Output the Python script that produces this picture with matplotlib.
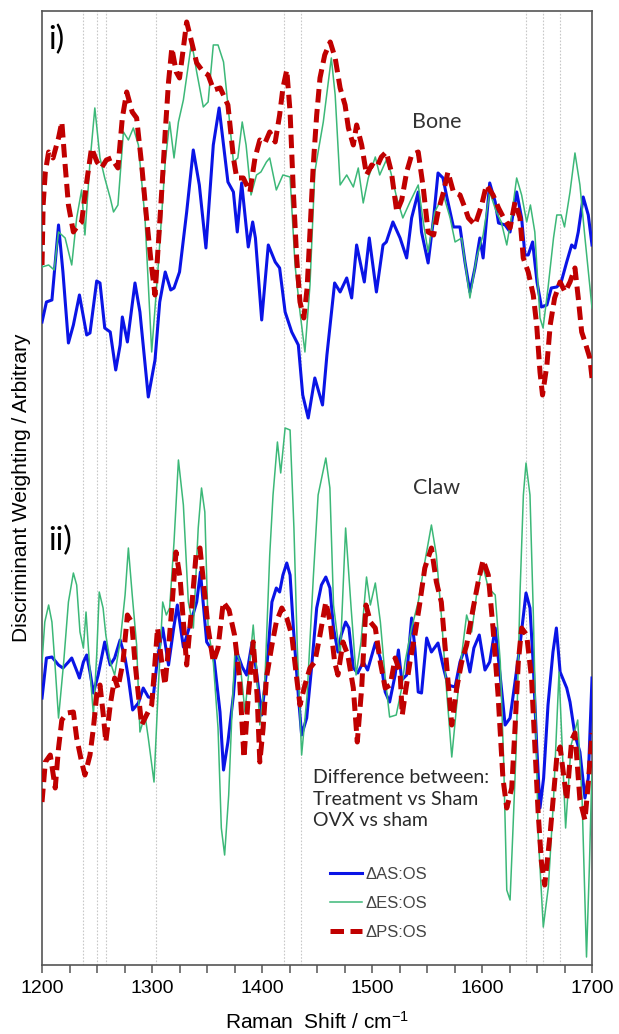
import numpy as np
import matplotlib.pyplot as plt
from matplotlib.lines import Line2D

plt.rcParams['font.family'] = ['Liberation Sans', 'DejaVu Sans']
plt.rcParams['mathtext.fontset'] = 'custom'
plt.rcParams['mathtext.rm'] = 'Liberation Sans'
plt.rcParams['mathtext.it'] = 'Liberation Sans:italic'
plt.rcParams['lines.solid_joinstyle'] = 'round'

# Bone discriminant weightings (arbitrary units, panel i)
bone_as_x = [1200, 1204, 1209, 1215, 1219, 1224, 1228.5, 1234, 1240.6, 1243.6, 1249.7, 1252.7, 1257, 1262,
             1267, 1271, 1273, 1277.6, 1284.5, 1289, 1296.6, 1302.7, 1307, 1312, 1317, 1320, 1325, 1331.5,
             1337.5, 1343, 1349, 1355.7, 1361, 1365, 1369, 1374, 1377.5, 1381.5, 1387.5, 1391.5, 1394,
             1399.7, 1405.7, 1412, 1416, 1421, 1427, 1433, 1437, 1442, 1448, 1455, 1459, 1466, 1471, 1477,
             1481.5, 1486, 1493, 1497.5, 1504, 1510, 1513, 1519, 1525.5, 1531.5, 1536, 1542, 1545, 1551,
             1556, 1560, 1564.5, 1568, 1574, 1580, 1584.5, 1589, 1593.6, 1598, 1601, 1607, 1612, 1615,
             1621, 1625.5, 1631.5, 1636, 1639, 1642, 1646, 1650, 1654, 1659, 1663, 1668, 1672, 1677,
             1681.5, 1684.5, 1687.5, 1692, 1696.6, 1700]
bone_as_y = [64.3, 66.3, 66.5, 74.0, 69.3, 62.2, 64.0, 67.0, 63.0, 63.2, 68.4, 68.2, 63.7, 63.3,
             59.5, 62.0, 64.8, 62.3, 68.2, 65.3, 56.8, 60.5, 66.3, 69.3, 67.5, 67.7, 69.3, 75.3,
             81.5, 78.0, 71.7, 82.0, 85.7, 82.0, 78.3, 77.3, 73.3, 78.2, 71.8, 74.3, 72.7,
             64.5, 72.0, 70.3, 69.7, 65.3, 63.3, 62.0, 57.0, 54.7, 58.7, 56.0, 61.0, 68.2, 67.3, 68.7,
             66.7, 72.0, 68.3, 72.7, 67.3, 72.0, 72.3, 74.3, 72.7, 70.7, 74.7, 77.3, 73.3, 70.2,
             74.7, 79.2, 78.7, 76.8, 73.8, 73.8, 70.3, 67.3, 69.7, 72.7, 70.7, 78.2, 76.3, 74.2,
             74.0, 73.3, 77.3, 74.7, 71.0, 71.0, 72.3, 68.3, 65.8, 66.0, 67.7, 67.8, 68.3, 70.3,
             72.0, 71.7, 73.3, 76.8, 75.0, 72.0]

bone_es_x = [1200, 1206, 1211, 1215, 1221, 1227, 1231.5, 1236, 1239, 1243.6, 1248, 1252.7, 1257, 1262,
             1265, 1269, 1274, 1278.5, 1283, 1287.6, 1293.6, 1299.7, 1305.7, 1312, 1316, 1320, 1324,
             1328.5, 1336, 1340.6, 1346.6, 1351, 1355.7, 1360, 1365, 1369, 1374, 1378, 1382, 1385.5,
             1390, 1395, 1399, 1404, 1407, 1413, 1419, 1425.5, 1430, 1434.5, 1439, 1443.6, 1448, 1451,
             1455.7, 1463, 1466.5, 1471, 1477, 1483, 1487.5, 1492, 1496.6, 1503, 1507, 1513, 1517,
             1522.5, 1528, 1534.5, 1542, 1546.6, 1551, 1557, 1565, 1571, 1575.5, 1581.5, 1589, 1595,
             1601, 1607, 1613, 1617.5, 1622.5, 1627, 1631.5, 1636, 1640.6, 1644, 1648, 1652.7, 1655.5,
             1660, 1665, 1668, 1672, 1675, 1680, 1684.5, 1689, 1693.6, 1700]
bone_es_y = [69.8, 70.0, 69.5, 73.3, 72.7, 70.0, 74.7, 77.5, 73.0, 80.3, 85.7, 80.7, 78.7, 76.7,
             75.3, 76.0, 83.3, 82.5, 83.7, 82.0, 74.7, 61.3, 70.0, 80.3, 84.3, 80.7, 84.3,
             86.5, 92.3, 89.3, 85.8, 86.3, 92.0, 92.0, 90.3, 86.0, 80.3, 80.7, 84.3, 82.0,
             77.0, 79.0, 79.3, 80.3, 80.7, 77.5, 79.0, 78.8, 70.0, 65.3, 61.3, 68.0, 79.3, 81.3,
             84.3, 90.7, 87.0, 78.0, 79.0, 77.8, 79.7, 76.2, 78.7, 80.8, 79.0, 80.5, 79.3,
             76.7, 74.7, 76.3, 78.0, 74.3, 71.3, 75.3, 77.0, 74.7, 72.3, 72.7, 66.7, 70.7,
             73.0, 77.3, 75.3, 74.3, 72.0, 75.0, 78.7, 77.0, 74.3, 76.0, 73.3, 64.7, 63.7,
             67.7, 72.7, 75.0, 75.0, 73.8, 77.3, 81.2, 78.0, 72.7, 65.7]

bone_ps_x = [1200, 1201, 1203, 1206, 1210, 1215, 1218, 1221, 1224, 1228.5, 1233, 1236, 1240.6, 1245,
             1250, 1254, 1258.5, 1263, 1269, 1273, 1277, 1282, 1286, 1290.6, 1295, 1299.7, 1302.7,
             1305.7, 1309, 1312, 1315, 1318, 1322, 1325, 1328.5, 1331.5, 1336, 1340.6, 1346.6, 1351,
             1356, 1362, 1369, 1374, 1377, 1383, 1389, 1393.6, 1398, 1402.7, 1407, 1412, 1416, 1419,
             1422.5, 1425.5, 1428.5, 1431.5, 1434.5, 1438, 1441, 1443.6, 1446.6, 1449.7, 1452.7, 1457,
             1462, 1466.5, 1471, 1475.5, 1478.5, 1483, 1486, 1490.6, 1495, 1499.7, 1504, 1508.5, 1513,
             1517.6, 1522.5, 1527, 1531.5, 1536, 1542, 1546.6, 1551, 1556, 1560, 1565, 1569, 1574,
             1580, 1584.5, 1587.6, 1593.6, 1599.7, 1604, 1610, 1615, 1619.7, 1625.5, 1630, 1634.5,
             1637.5, 1642, 1646.6, 1649.7, 1652.7, 1655, 1659, 1662, 1666, 1671, 1675.5, 1680, 1684.5,
             1687.5, 1690.6, 1693.6, 1698, 1700]
bone_ps_y = [70.0, 76.0, 79.3, 81.3, 80.7, 82.7, 84.3, 80.0, 76.0, 73.3, 74.0, 74.3, 78.3, 81.7,
             80.3, 79.7, 80.5, 80.7, 79.7, 84.7, 87.3, 85.3, 84.7, 80.0, 74.7, 69.7, 67.0,
             72.0, 77.7, 83.3, 88.3, 91.7, 89.3, 88.7, 91.7, 94.3, 92.3, 90.2, 89.3, 89.0,
             87.5, 87.7, 86.0, 80.7, 78.7, 78.7, 77.3, 80.7, 82.5, 82.2, 83.3, 82.3, 85.0, 87.7,
             89.5, 85.3, 77.3, 70.7, 66.3, 64.7, 67.7, 73.3, 80.0, 85.0, 88.7, 91.0,
             92.3, 90.7, 87.7, 86.0, 83.7, 82.0, 84.0, 82.0, 79.0, 80.0, 79.7, 80.8, 81.3,
             79.3, 75.3, 76.5, 79.3, 81.0, 81.3, 77.7, 73.3, 73.0, 75.3, 77.3, 79.3, 77.3,
             77.0, 75.7, 74.7, 74.0, 76.0, 78.0, 77.0, 75.7, 74.7, 73.7, 76.3, 74.7,
             70.7, 69.3, 67.0, 64.0, 59.3, 57.0, 60.0, 64.0, 66.7, 68.3, 67.3, 68.3, 69.7,
             66.7, 63.3, 62.3, 60.7, 58.7]

# Claw discriminant weightings (arbitrary units, panel ii)
claw_as_x = [1200, 1204, 1209, 1215, 1219, 1224, 1227, 1232, 1234, 1237.6, 1240.6, 1243.6, 1246.7, 1251,
             1257, 1262, 1266, 1271, 1275.5, 1278.5, 1282.4, 1287.6, 1292, 1296.6, 1301, 1305, 1309.7,
             1315, 1319.7, 1323, 1328.5, 1334.5, 1340.6, 1344, 1349.7, 1355.7, 1361.8, 1365, 1369, 1374,
             1377, 1382, 1386, 1391, 1395, 1399.7, 1404, 1409, 1413, 1416, 1419, 1422.5, 1425.5, 1428.5,
             1433, 1436, 1440.6, 1445, 1449.7, 1454, 1458, 1461.7, 1465, 1469, 1472, 1476, 1479, 1483,
             1487, 1492, 1496, 1503, 1507.5, 1512, 1516, 1521, 1524, 1527, 1531.5, 1536, 1539, 1542,
             1545, 1549.7, 1554, 1560, 1565, 1569, 1575.5, 1580, 1584.5, 1589, 1592.6, 1597.5, 1602.7,
             1607, 1612, 1616.7, 1621, 1625.5, 1630, 1634.5, 1640, 1643.6, 1646.6, 1649.7, 1652.7, 1656,
             1660, 1664.5, 1667.6, 1671, 1677, 1680, 1684.5, 1689, 1693.6, 1696.6, 1700]
claw_as_y = [26.7, 30.7, 30.8, 30.0, 29.7, 30.3, 30.7, 29.3, 28.7, 30.3, 31.0, 29.3, 27.2, 29.0,
             32.3, 30.0, 30.7, 32.5, 30.7, 28.7, 25.5, 26.2, 27.7, 26.8, 26.7, 30.7, 33.7,
             30.0, 33.7, 36.0, 31.8, 34.0, 36.3, 39.3, 32.3, 31.3, 25.3, 19.5, 22.3, 27.0,
             31.3, 29.8, 29.0, 32.3, 29.3, 25.0, 29.3, 36.3, 37.7, 37.3, 39.0, 40.2, 39.0, 33.7,
             27.0, 23.0, 24.7, 29.7, 35.7, 38.0, 38.8, 37.7, 33.7, 31.3, 33.0, 34.3, 33.7, 29.7,
             29.2, 30.3, 29.5, 32.2, 30.7, 27.3, 26.3, 29.0, 31.5, 28.5, 29.0, 34.7, 31.7, 27.3,
             27.2, 32.7, 31.3, 32.2, 29.7, 28.0, 27.8, 30.3, 31.7, 29.3, 31.7, 33.0, 29.5,
             30.3, 33.7, 28.7, 24.0, 24.7, 28.3, 32.0, 37.2, 35.7, 30.0, 22.0, 15.7, 18.7,
             26.0, 31.3, 33.7, 29.3, 27.7, 26.3, 23.0, 21.3, 16.7, 18.7, 28.7]

claw_es_x = [1200, 1202.5, 1206, 1209, 1212, 1215, 1219.7, 1224, 1228.5, 1231.5, 1234.5, 1237.6, 1240,
             1243, 1246.7, 1249.7, 1252, 1255.5, 1258, 1262, 1266, 1271, 1275.5, 1278.5, 1282, 1286,
             1289, 1293.6, 1296.6, 1301.8, 1305.7, 1309.7, 1313, 1316, 1320, 1324, 1328.5, 1333,
             1337.6, 1342, 1345, 1348, 1351, 1355.7, 1360, 1363, 1366, 1369.7, 1372.7, 1375.5, 1380,
             1384.5, 1388, 1392, 1395, 1398, 1402.7, 1407, 1410, 1414, 1417, 1421, 1425.5, 1429, 1432,
             1436, 1441, 1446.6, 1451, 1458, 1461.7, 1465, 1471, 1476, 1481, 1485.5, 1490, 1495,
             1498.5, 1503, 1507.6, 1512, 1516, 1522, 1527, 1530, 1536, 1542, 1548, 1554, 1558.5,
             1563, 1567.6, 1572.5, 1577, 1581.5, 1586, 1590.6, 1595, 1600.6, 1605.7, 1612, 1616.6,
             1619.7, 1622.5, 1625.5, 1628, 1631, 1634.5, 1637.6, 1640, 1643.6, 1646.6, 1649.7, 1651,
             1655.7, 1660.3, 1665, 1670, 1673, 1676, 1681, 1687, 1691, 1695, 1697.6, 1700]
claw_es_y = [30.3, 34.3, 36.0, 34.3, 29.7, 24.7, 30.3, 36.3, 39.2, 38.0, 33.3, 31.7, 35.3,
             30.3, 25.0, 31.0, 37.3, 35.7, 33.0, 30.3, 29.0, 32.3, 37.0, 41.7, 37.0, 32.0,
             23.3, 25.0, 22.7, 18.3, 27.7, 36.3, 35.0, 35.7, 42.3, 50.5, 46.0, 36.3,
             33.7, 43.7, 47.7, 45.3, 33.7, 30.3, 23.7, 13.7, 11.0, 17.0, 25.3, 31.7, 30.3,
             25.3, 29.3, 34.0, 29.7, 24.0, 28.7, 41.0, 47.0, 52.3, 49.2, 53.7, 53.5, 43.7, 32.0,
             21.0, 27.0, 38.7, 47.0, 50.7, 47.7, 36.0, 30.7, 43.7, 35.7, 29.0, 32.3, 38.8,
             36.0, 38.2, 34.3, 28.7, 24.8, 25.0, 27.7, 30.3, 33.7, 36.3, 40.3, 44.0, 41.0,
             35.0, 27.7, 20.8, 26.0, 31.0, 35.0, 33.3, 37.0, 40.0, 37.7, 37.0, 30.3,
             20.3, 7.5, 6.5, 13.2, 21.5, 37.0, 47.0, 50.2, 47.0, 35.3, 20.3, 13.2,
             3.8, 7.8, 16.5, 29.3, 21.5, 13.7, 22.0, 24.5, 16.5, 0.8, 9.8, 19.8]

claw_ps_x = [1200, 1203, 1207.5, 1212, 1215, 1218, 1222.7, 1228.5, 1231.5, 1236, 1239, 1243.6, 1246.7,
             1249.7, 1252.7, 1255.7, 1258, 1262, 1266, 1269, 1273.6, 1277.6, 1281.5, 1284.5, 1287.6,
             1290.6, 1295, 1299.7, 1302.7, 1305, 1308.8, 1311.8, 1315, 1318, 1321.8, 1325.5, 1328.5,
             1331.5, 1336, 1340, 1343.6, 1348, 1351, 1355.7, 1360, 1364.8, 1370, 1375, 1379.5, 1383.6,
             1387.6, 1392, 1395.5, 1398, 1401, 1404, 1409, 1413, 1418, 1422.5, 1427, 1431.5, 1434.5,
             1439, 1443.6, 1448, 1452.7, 1458, 1462, 1466, 1469, 1473.6, 1478, 1483, 1486.6, 1490.6,
             1494.5, 1498.5, 1503, 1507.5, 1512, 1516.6, 1521, 1525.5, 1527.5, 1530, 1534.5, 1539,
             1543.6, 1548, 1554, 1558.5, 1563, 1567.6, 1572.5, 1577, 1581.5, 1586, 1592, 1596.5, 1601,
             1605.7, 1610, 1614.6, 1619, 1622.5, 1627, 1630, 1633, 1636, 1640.6, 1645, 1648, 1651,
             1654, 1657, 1662, 1668, 1671, 1677, 1681.5, 1684.5, 1689, 1693.6, 1696.6, 1700]
claw_ps_y = [16.3, 20.3, 21.0, 17.7, 21.7, 24.5, 25.2, 25.3, 22.7, 20.3, 19.0, 21.0, 23.7,
             27.0, 28.0, 25.0, 22.3, 26.0, 28.7, 27.7, 30.3, 35.0, 34.3, 30.3, 27.0,
             24.0, 25.0, 26.0, 30.3, 33.7, 30.3, 28.0, 31.7, 35.7, 41.3, 38.7, 34.3,
             30.0, 35.7, 41.0, 41.7, 37.0, 33.7, 30.3, 31.7, 36.3, 35.5, 33.0, 28.7, 20.7,
             27.0, 32.3, 27.0, 20.3, 23.7, 28.7, 32.0, 34.3, 35.7, 34.7, 33.0, 28.7, 26.0,
             28.0, 29.7, 30.3, 33.0, 36.3, 34.3, 30.3, 29.0, 32.3, 31.0, 27.7, 22.3, 27.7,
             36.0, 34.3, 33.7, 30.3, 27.7, 28.0, 30.7, 29.3, 25.0, 27.0, 30.3, 33.0,
             36.3, 39.7, 41.7, 38.3, 36.3, 30.3, 24.0, 27.7, 30.3, 32.0, 35.7, 38.3, 40.5,
             39.0, 33.7, 27.0, 18.7, 15.7, 17.7, 23.7, 30.3, 33.7, 33.0, 28.7, 22.0, 15.3,
             10.3, 8.0, 13.2, 20.8, 21.8, 16.5, 22.5, 23.2, 16.5, 14.5, 18.2, 23.2]

# assigned band positions marked with dotted guides
band_lines = [1237, 1250, 1258, 1304, 1420, 1435, 1640, 1655, 1671]

legend_labels = ['\u0394AS:OS', '\u0394ES:OS', '\u0394PS:OS']

blue = '#0a14e6'
green = '#3cb878'
red = '#c00000'
dash = (0, (2.7, 1.3))

fig = plt.figure(figsize=(6.19, 10.34), dpi=100)
ax = fig.add_axes([0.0679, 0.0667, 0.8885, 0.9227])

for b in band_lines:
    ax.axvline(b, color='#c8c8c8', lw=0.8, ls=(0, (1.5, 1.5)), zorder=0)

ax.plot(bone_as_x, bone_as_y, color=blue, lw=2.2, zorder=3)
ax.plot(bone_es_x, bone_es_y, color=green, lw=1.1, zorder=3)
ax.plot(bone_ps_x, bone_ps_y, color=red, lw=3.6, ls=dash, zorder=4)

ax.plot(claw_as_x, claw_as_y, color=blue, lw=2.2, zorder=3)
ax.plot(claw_es_x, claw_es_y, color=green, lw=1.1, zorder=3)
ax.plot(claw_ps_x, claw_ps_y, color=red, lw=3.6, ls=dash, zorder=4)

ax.set_xlim(1200, 1700)
ax.set_ylim(0, 95.4)
ax.set_yticks([])
ax.set_xticks(np.arange(1200, 1701, 100))
ax.set_xticks(np.arange(1200, 1701, 25), minor=True)
ax.tick_params(axis='x', which='both', direction='out', length=6, width=1.1,
               color='#555555', labelsize=14, pad=5)
for s in ax.spines.values():
    s.set_color('#555555')
    s.set_linewidth(1.2)

ax.set_xlabel('Raman  Shift / cm$^{-1}$', fontsize=15, labelpad=10)
ax.set_ylabel('Discriminant Weighting / Arbitrary', fontsize=15, labelpad=8)

lato = ['Lato', 'DejaVu Sans']
ax.text(0.011, 0.986, 'i)', transform=ax.transAxes, fontsize=23, va='top', ha='left', family=lato)
ax.text(0.011, 0.460, 'ii)', transform=ax.transAxes, fontsize=23, va='top', ha='left', family=lato)
ax.text(0.717, 0.884, 'Bone', transform=ax.transAxes, fontsize=15.5, ha='center', va='center',
        color='#333333', family=lato)
ax.text(0.717, 0.500, 'Claw', transform=ax.transAxes, fontsize=15.5, ha='center', va='center',
        color='#333333', family=lato)
ax.text(0.493, 0.205, 'Difference between:\nTreatment vs Sham\nOVX vs sham', transform=ax.transAxes,
        fontsize=14, ha='left', va='top', color='#2a2a2a', family=lato, linespacing=1.3)

handles = [Line2D([], [], color=blue, lw=2.2),
           Line2D([], [], color=green, lw=1.1),
           Line2D([], [], color=red, lw=3.6, ls=dash)]
leg = ax.legend(handles, legend_labels, loc='upper left', bbox_to_anchor=(0.512, 0.110),
                frameon=False, fontsize=12, handlelength=1.9, handletextpad=0.2,
                labelspacing=0.85, borderaxespad=0)
for t in leg.get_texts():
    t.set_color('#444444')

fig.savefig('out.png', dpi=100)
